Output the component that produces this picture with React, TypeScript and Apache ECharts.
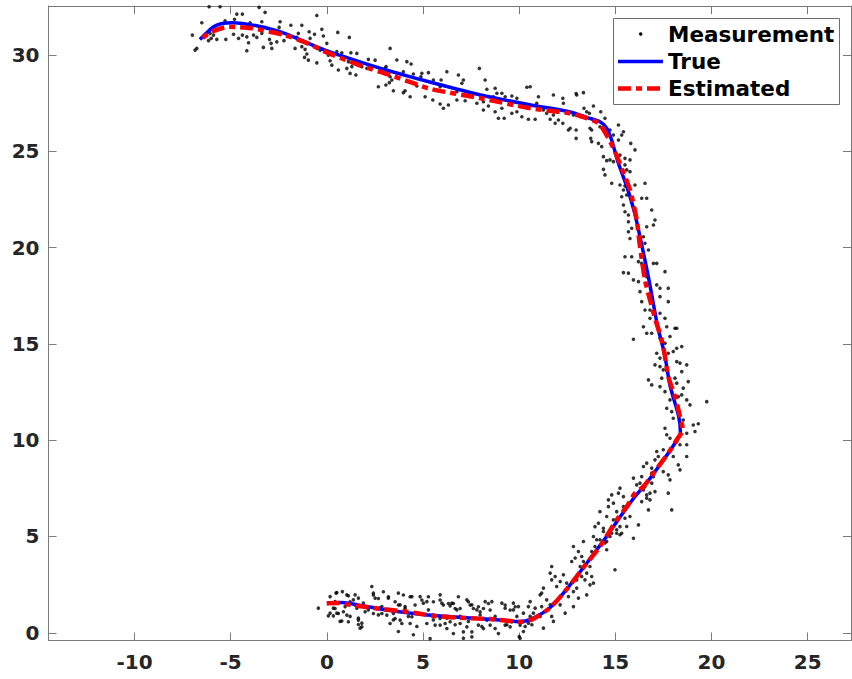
import React, { useEffect, useRef } from "react";
import * as echarts from "echarts";

// ---- axes ----
const X_MIN = -14.47;
const X_MAX = 27.25;
const Y_MIN = -0.4;
const Y_MAX = 32.54;
const xTickValues = [-10, -5, 0, 5, 10, 15, 20, 25];
const yTickValues = [0, 5, 10, 15, 20, 25, 30];

// ---- series names ----
const seriesNames = ["Measurement", "True", "Estimated"];

// ---- true trajectory ----
const truePath: number[][] = [
  [0.0, 1.52], [0.8, 1.57], [1.6, 1.45], [3.0, 1.2], [5.0, 0.95], [6.5, 0.83], [8.0, 0.73],
  [9.3, 0.64], [10.0, 0.58], [10.6, 0.7], [11.6, 1.3], [12.5, 2.3], [13.5, 3.6], [14.4, 4.8],
  [15.2, 5.95], [16.0, 7.05], [16.6, 7.75], [17.3, 8.7], [17.8, 9.4], [18.2, 10.0], [18.38, 10.4],
  [18.3, 11.2], [17.85, 12.8], [17.55, 14.5], [17.2, 15.9], [16.75, 18.3], [16.4, 20.0],
  [16.0, 21.8], [15.6, 23.15], [15.15, 24.4], [14.8, 25.6], [14.55, 26.2], [14.2, 26.53],
  [13.5, 26.76], [12.6, 27.05], [10.6, 27.4], [8.0, 27.92], [5.4, 28.58], [3.5, 29.1],
  [2.0, 29.55], [-0.1, 30.25], [-2.2, 31.12], [-3.6, 31.5], [-4.9, 31.67], [-5.5, 31.62],
  [-5.9, 31.45], [-6.6, 30.8],
];

// ---- estimated trajectory ----
const estPath: number[][] = [
  [0.0, 1.54], [0.6, 1.55], [1.2, 1.45], [2.9, 1.23], [4.7, 1.02], [5.5, 0.88], [7.3, 0.76],
  [8.5, 0.71], [9.4, 0.63], [10.05, 0.56], [10.7, 0.71], [11.6, 1.3], [12.5, 2.3], [13.5, 3.6],
  [14.2, 4.48], [15.07, 5.86], [15.59, 6.55], [16.02, 7.25], [16.46, 7.59], [17.23, 8.63],
  [17.75, 9.33], [18.19, 10.02], [18.5, 10.55], [18.36, 11.22], [18.1, 12.26], [17.75, 13.3],
  [17.58, 14.34], [17.41, 15.2], [17.1, 16.2], [16.8, 17.28], [16.54, 18.32], [16.28, 20.05],
  [16.11, 21.43], [15.76, 22.99], [15.33, 24.11], [14.98, 24.98], [14.64, 25.67], [14.12, 26.45],
  [13.17, 26.83], [12.6, 26.97], [10.6, 27.23], [8.0, 27.75], [5.4, 28.23], [4.5, 28.53],
  [3.3, 28.95], [1.6, 29.5], [-0.1, 30.17], [-1.0, 30.6], [-2.2, 31.03], [-3.9, 31.38],
  [-5.1, 31.46], [-6.0, 31.2], [-6.6, 30.77],
];

// ---- measurements (noisy positions) ----
const measTopLeft: number[][] = [
  [-6.12, 32.5], [-5.55, 32.5], [-3.52, 32.47], [-3.21, 32.21], [-4.68, 32.12], [-4.39, 32.12],
  [-0.52, 32.05], [-6.5, 31.67], [-4.8, 31.85], [-5.29, 31.77], [-3.99, 31.67], [-3.38, 31.72],
  [-2.43, 31.72], [-1.87, 31.54], [-1.3, 31.54], [-2.48, 31.43], [-0.26, 31.33], [-6.99, 31.03],
  [-6.07, 31.12], [-5.89, 31.03], [-5.72, 30.81], [-6.15, 30.74], [-6.01, 30.86], [-5.25, 30.81],
  [-4.85, 31.07], [-4.59, 30.86], [-4.16, 30.94], [-4.39, 31.03], [-3.81, 31.03], [-3.64, 30.91],
  [-3.38, 31.12], [-4.07, 30.63], [-2.98, 30.81], [-2.9, 30.6], [-3.3, 30.39], [-4.16, 30.22],
  [-2.6, 30.68], [-2.23, 30.74], [-1.48, 31.12], [-1.56, 30.91], [-1.39, 30.74], [-0.92, 31.2],
  [-0.64, 31.07], [-0.18, 30.98], [0.57, 31.17], [-0.87, 30.86], [-1.13, 30.29], [-1.65, 30.34],
  [-2.86, 30.34], [-1.3, 30.43], [-1.04, 30.05], [-1.16, 29.87], [-0.96, 29.73], [-0.52, 29.59],
  [0, 30.6], [-0.35, 30.25], [0.08, 29.99], [0.17, 29.7], [0.26, 29.47], [0.52, 30.17],
  [0.78, 30.11], [1.17, 30.91], [0.86, 29.9], [1.25, 30.11], [1.56, 30.08], [1.12, 29.65],
  [1.3, 29.39], [1.04, 29.3], [0.6, 29.22], [1.21, 29.04], [1.51, 28.96], [1.82, 29.39],
  [2.16, 29.77], [2.51, 29.73], [2.08, 29.3], [3.03, 29.3], [3.29, 30.34], [2.68, 28.35],
  [3.07, 28.44], [3.29, 28.87], [3.38, 28.7], [-6.85, 30.25], [-6.76, 30.34],
];

const measTopRight: number[][] = [
  [3.64, 29.74], [4.16, 29.65], [4.38, 29.53], [3.08, 29.39], [3.98, 29.13], [4.5, 29.01],
  [4.94, 29.05], [5.28, 29.08], [4.89, 28.87], [3.25, 28.56], [3.46, 28.14], [4.07, 28.14],
  [4.33, 27.83], [3.98, 28.04], [4.68, 28.39], [5.54, 28.7], [5.94, 28.7], [5.89, 28.35],
  [6.24, 29.13], [6.84, 28.96], [7.1, 28.7], [7.02, 28.53], [7.93, 29.3], [8.23, 28.7],
  [7.28, 28.09], [6.76, 28.09], [5.51, 27.66], [5.11, 27.83], [5.89, 27.45], [6.06, 27.23],
  [6.32, 27.4], [6.76, 27.66], [7.19, 27.62], [7.8, 27.49], [8.14, 27.57], [8.32, 28.22],
  [8.75, 28.27], [8.84, 28.01], [9.1, 28.01], [8.66, 27.83], [9.27, 27.83], [9.62, 27.87],
  [9.88, 27.75], [10.4, 28.32], [10.57, 28.35], [8.14, 27.14], [8.4, 27.35], [8.75, 27.05],
  [9.1, 27.23], [8.92, 26.71], [9.22, 26.71], [9.62, 26.97], [9.88, 27.05], [10.14, 26.79],
  [10.4, 27.28], [10.48, 26.66], [10.83, 26.66], [10.91, 27.49], [11.0, 27.83], [11.26, 27.14],
  [11.43, 26.97], [11.61, 26.66], [11.78, 27.92], [12.27, 27.75], [12.3, 27.49], [11.78, 26.88],
  [12.04, 26.62], [11.87, 26.45], [12.65, 26.19], [12.96, 25.67], [12.99, 27.92], [13.34, 28.04],
  [13.37, 27.23], [13.51, 27.05], [13.65, 26.97], [13.86, 27.35], [14.24, 27.05], [13.77, 26.1],
  [13.72, 25.67], [14.2, 26.27], [13.17, 26.79], [12.82, 26.88],
];

const measRightUpper: number[][] = [
  [12.96, 28.0], [12.27, 26.45], [12.56, 26.1], [12.96, 26.1], [14.46, 26.71], [13.68, 26.19],
  [13.77, 25.5], [14.12, 25.41], [14.29, 25.24], [14.72, 26.1], [15.16, 26.36], [15.42, 26.01],
  [15.33, 25.84], [15.8, 25.41], [16.02, 25.07], [14.9, 25.84], [15.16, 25.58], [14.38, 24.72],
  [14.55, 24.51], [14.72, 24.55], [14.9, 24.46], [15.24, 24.8], [15.5, 24.63], [15.76, 24.55],
  [15.5, 24.29], [14.38, 24.06], [14.46, 23.77], [15.59, 24.03], [15.76, 23.94], [14.81, 23.34],
  [15.24, 23.25], [15.5, 23.2], [16.02, 23.25], [16.54, 23.34], [15.42, 22.99], [15.33, 22.64],
  [15.59, 22.73], [16.37, 22.56], [16.63, 22.56], [15.42, 22.21], [15.5, 21.86], [15.68, 21.69],
  [16.89, 21.95], [15.68, 21.34], [15.85, 21.0], [16.63, 21.08], [17.06, 21.43], [16.98, 21.17],
  [15.68, 20.82], [15.76, 20.47], [16.46, 20.56], [16.54, 20.22], [16.72, 19.87], [15.5, 19.52],
  [15.85, 19.52], [16.2, 19.27], [16.37, 19.18], [16.98, 19.18], [17.15, 19.18], [15.42, 18.7],
  [15.68, 18.67], [15.94, 18.32], [16.2, 18.23], [16.63, 18.49], [17.58, 18.75], [17.15, 18.06],
  [17.32, 17.89], [17.75, 17.89], [16.28, 17.71], [16.37, 17.19], [16.54, 16.76], [16.8, 16.76],
  [17.32, 17.45], [17.75, 17.19], [17.32, 16.59], [17.58, 16.33], [16.8, 16.33], [16.46, 15.89],
  [18.1, 15.81], [17.67, 15.89],
];

const measRightLower: number[][] = [
  [16.89, 15.55], [18.19, 15.81], [15.94, 15.24], [16.63, 15.55], [17.32, 15.29], [17.58, 15.03],
  [17.84, 15.38], [18.19, 14.77], [18.45, 14.86], [17.15, 14.51], [17.32, 14.26], [17.75, 14.51],
  [18.01, 14.6], [17.06, 13.91], [17.32, 13.82], [17.49, 13.65], [18.19, 14.08], [18.36, 14.0],
  [18.71, 13.91], [18.45, 13.56], [17.41, 13.22], [16.72, 13.13], [16.89, 12.87], [17.32, 12.78],
  [18.1, 13.22], [18.19, 12.96], [18.79, 13.04], [18.53, 12.7], [17.58, 12.52], [17.84, 12.09],
  [18.27, 12.26], [18.45, 12.35], [18.71, 12.09], [18.88, 11.83], [19.75, 12.0], [17.67, 11.66],
  [17.93, 11.48], [18.01, 11.14], [18.53, 11.05], [19.05, 10.79], [19.31, 10.85], [19.14, 10.45],
  [18.71, 10.36], [17.58, 10.62], [17.67, 10.28], [17.84, 10.1], [18.19, 9.93], [17.93, 9.58],
  [18.36, 9.76], [18.71, 9.76], [17.15, 9.41], [17.49, 9.5], [17.23, 9.15], [18.01, 9.15],
  [18.71, 9.15], [18.27, 8.72], [18.36, 8.46], [17.49, 8.37], [17.75, 8.2], [17.84, 7.94],
  [16.46, 8.63], [16.63, 8.81], [16.89, 8.55], [16.98, 8.11], [15.94, 8.03], [16.28, 7.77],
  [16.54, 7.59], [16.89, 7.77], [16.63, 7.16], [16.8, 6.9], [16.37, 6.81], [17.75, 7.25],
  [17.93, 6.38], [15.24, 7.51], [15.16, 7.25], [15.42, 7.07], [14.9, 6.73], [14.81, 7.16],
  [14.64, 6.55], [15.07, 6.29], [15.42, 6.55], [15.76, 6.04], [16.2, 5.6], [14.2, 6.29],
  [14.55, 6.04], [14.9, 5.86], [14.12, 5.69], [13.94, 5.51], [14.38, 5.43], [15.24, 5.51],
  [15.33, 5.17], [13.86, 5.0], [14.03, 4.83], [14.72, 5.0], [14.55, 4.74], [15.94, 4.91],
  [13.34, 4.74], [15.07, 5.17],
];

const measRise: number[][] = [
  [17.06, 8.98], [16.37, 8.11], [16.89, 8.29], [16.11, 7.68], [16.46, 7.42], [16.8, 7.25],
  [17.06, 7.33], [16.63, 6.99], [16.72, 6.38], [14.64, 6.9], [15.5, 5.95], [15.59, 5.52],
  [15.07, 5.35], [15.24, 5.09], [14.81, 5.17], [14.38, 5.26], [14.2, 4.83], [14.46, 4.66],
  [13.94, 4.48], [14.55, 4.31], [13.77, 4.22], [12.82, 4.48], [13.08, 4.22], [13.25, 3.96],
  [12.91, 3.88], [12.73, 3.7], [13.34, 3.7], [13.68, 3.44], [13.17, 3.44], [13.51, 3.1],
  [13.77, 2.92], [14.98, 3.27], [11.69, 3.44], [11.61, 3.1], [11.87, 2.92], [12.3, 3.01],
  [11.69, 2.75], [12.13, 2.66], [12.47, 2.58], [12.99, 2.75], [13.42, 2.75], [13.68, 2.49],
  [13.51, 1.97], [12.82, 2.14], [12.56, 1.88], [13.08, 1.8], [11.26, 2.32], [11.09, 1.97],
  [11.43, 1.71], [11.17, 1.36], [11.61, 1.45], [12.13, 1.45], [12.39, 1.02], [11.69, 0.85],
  [10.57, 1.62], [10.48, 1.36], [10.83, 1.28], [10.74, 1.02], [11.09, 0.85], [10.22, 1.02],
  [10.57, 0.85], [11.78, 0.59], [10.48, 0.5], [9.88, 0.85], [9.7, 1.54], [9.7, 1.19],
  [9.96, 1.36], [10.31, 0.33], [10.66, 0.42], [11.26, 0.24], [10.0, -0.2],
];

const measBottom: number[][] = [
  [-0.44, 1.28], [0.17, 1.88], [0.48, 2.06], [0.81, 2.14], [0.43, 1.62], [0.34, 1.28],
  [0.17, 1.02], [0.52, 1.02], [0.69, 0.59], [0.95, 1.36], [1.12, 1.92], [1.38, 1.71],
  [1.64, 1.8], [1.9, 1.54], [1.56, 1.28], [1.21, 0.85], [1.64, 0.76], [1.82, 0.5], [1.73, 0.24],
  [2.34, 2.4], [2.42, 2.06], [2.51, 1.8], [2.16, 1.19], [2.68, 0.93], [2.86, 1.36], [3.2, 1.8],
  [3.29, 1.19], [3.46, 0.67], [3.72, 0.07], [3.72, 2.06], [3.81, 1.45], [4.07, 1.36],
  [4.24, 0.85], [4.42, 1.88], [4.68, 0.33], [4.85, 1.88], [5.02, 1.54], [5.2, 1.62],
  [5.28, 1.19], [5.37, -0.3], [5.54, 0.67], [5.89, 1.97], [5.98, 1.54], [6.24, 0.76],
  [6.5, 1.54], [6.67, 0.42], [6.76, 1.19], [6.93, 0.85], [7.1, -0.28], [7.28, 1.71],
  [7.36, 0.59], [7.54, 1.45], [7.8, 1.19], [7.97, 0.93], [8.06, 0.33], [8.23, 1.62],
  [8.58, 1.62], [8.75, 0.85], [9.1, 1.54], [9.27, 1.28], [9.36, 0.42], [10.05, -0.28],
  [10.22, 0.07], [11.17, 2.06], [11.95, 2.4], [12.82, 1.36], [12.99, 2.32], [13.25, 2.92],
  [13.86, 2.58], [1.04, 1.97], [1.47, 1.97], [4.5, -0.1], [2.77, 1.28],
];

const measBottomExtra: number[][] = [
  [0.52, 2.09], [2.42, 1.96], [2.68, 1.78], [2.94, 2.13], [3.2, 1.87], [3.55, 1.61],
  [3.98, 1.96], [4.33, 1.87], [4.59, 1.44], [0.43, 1.26], [0.6, 1.0], [0.34, 0.88],
  [0.08, 0.88], [0.86, 1.09], [1.04, 0.92], [1.12, 0.57], [0.78, 0.61], [1.64, 0.66],
  [1.64, 0.43], [1.82, 0.31], [1.99, 1.09], [2.42, 1.0], [2.6, 1.26], [2.86, 1.0],
  [3.12, 0.92], [3.46, 1.0], [3.55, 0.74], [3.29, 0.48], [3.81, 0.66], [3.9, 0.48],
  [4.33, 0.48], [4.42, 0.83], [4.07, 1.26], [3.72, 1.44], [1.47, 1.44], [1.21, 1.61],
  [4.94, 1.7], [5.28, 1.87], [5.54, 1.61], [5.89, 1.7], [6.06, 1.44], [6.32, 1.52],
  [6.41, 1.4], [6.58, 1.52], [6.67, 1.26], [6.84, 1.87], [6.93, 1.26], [7.36, 1.61],
  [7.45, 1.44], [7.62, 1.26], [7.88, 1.35], [7.97, 1.09], [8.14, 1.26], [8.4, 1.52],
  [8.49, 1.18], [9.27, 1.44], [9.53, 1.18], [9.79, 1.35], [5.2, 0.48], [5.63, 0.4],
  [5.89, 0.4], [6.15, 0.48], [6.24, 0.22], [6.58, -0.04], [6.93, 0.48], [7.28, 0.31],
  [7.1, 0.05], [7.54, 0.05], [7.54, -0.21], [7.88, 0.4], [8.14, 0.22], [8.49, 0.4],
  [8.75, 0.22], [8.92, -0.04], [9.27, 0.4], [9.53, 0.31], [9.62, 0.57], [10.05, 0.4],
  [5.54, 0.92], [5.89, 0.74], [8.32, 0.66], [6.41, 0.57],
];

const measurements = [
  ...measTopLeft, ...measTopRight, ...measRightUpper, ...measRightLower, ...measRise,
  ...measBottom, ...measBottomExtra,
];

const FONT = "'DejaVu Sans', 'Liberation Sans', sans-serif";
const AXIS_COLOR = "#7a7a7a";
const LABEL_COLOR = "#262626";

function buildOption(): echarts.EChartsCoreOption {
  const axisLine = { show: true, onZero: false, lineStyle: { color: AXIS_COLOR, width: 1 } };
  const tickStyle = { color: AXIS_COLOR, width: 1 };
  const labelStyle = { fontSize: 20, fontWeight: "bold", color: LABEL_COLOR, fontFamily: FONT };

  const legendX = 613.5;
  const legendY = 18.5;
  const iconX0 = 618;
  const iconX1 = 663;
  const textX = 668;
  const rows = [34, 61.5, 88.5];

  return {
    animation: false,
    backgroundColor: "#ffffff",
    grid: { left: 48.5, right: 1, top: 6, bottom: 38.5, containLabel: false },
    xAxis: [
      {
        type: "value", min: X_MIN, max: X_MAX, position: "bottom",
        axisLine,
        axisTick: { show: true, inside: true, length: 8, customValues: xTickValues, lineStyle: tickStyle },
        axisLabel: { show: true, customValues: xTickValues, margin: 11, ...labelStyle },
        splitLine: { show: false },
      },
      {
        type: "value", min: X_MIN, max: X_MAX, position: "top",
        axisLine,
        axisTick: { show: true, inside: true, length: 8, customValues: xTickValues, lineStyle: tickStyle },
        axisLabel: { show: false },
        splitLine: { show: false },
      },
    ],
    yAxis: [
      {
        type: "value", min: Y_MIN, max: Y_MAX, position: "left",
        axisLine,
        axisTick: { show: true, inside: true, length: 8, customValues: yTickValues, lineStyle: tickStyle },
        axisLabel: { show: true, customValues: yTickValues, margin: 9, ...labelStyle },
        splitLine: { show: false },
      },
      {
        type: "value", min: Y_MIN, max: Y_MAX, position: "right",
        axisLine,
        axisTick: { show: true, inside: true, length: 8, customValues: yTickValues, lineStyle: tickStyle },
        axisLabel: { show: false },
        splitLine: { show: false },
      },
    ],
    series: [
      {
        name: seriesNames[0], type: "scatter", xAxisIndex: 0, yAxisIndex: 0,
        data: measurements, symbol: "circle", symbolSize: 3.6,
        itemStyle: { color: "#000000" }, z: 2,
      },
      {
        name: seriesNames[1], type: "line", xAxisIndex: 0, yAxisIndex: 0,
        data: truePath, showSymbol: false, smooth: 0.25,
        lineStyle: { color: "#0000ff", width: 3.5 }, z: 3,
      },
      {
        name: seriesNames[2], type: "line", xAxisIndex: 0, yAxisIndex: 0,
        data: estPath, showSymbol: false, smooth: 0.25,
        lineStyle: { color: "#ff0000", width: 4.5, type: [13, 5, 6, 5] }, z: 4,
      },
    ],
    graphic: [
      {
        type: "group", z: 100,
        children: [
          {
            type: "rect", shape: { x: legendX, y: legendY, width: 226, height: 86 },
            style: { fill: "#ffffff", stroke: "#6e6e6e", lineWidth: 1 },
          },
          { type: "circle", shape: { cx: 640.7, cy: rows[0], r: 1.7 }, style: { fill: "#000000" } },
          {
            type: "line", shape: { x1: iconX0, y1: rows[1], x2: iconX1, y2: rows[1] },
            style: { stroke: "#0000ff", lineWidth: 3.5 },
          },
          {
            type: "line", shape: { x1: iconX0, y1: rows[2], x2: iconX1, y2: rows[2] },
            style: { stroke: "#ff0000", lineWidth: 4.5, lineDash: [13, 5, 6, 5] },
          },
          ...seriesNames.map((name, i) => ({
            type: "text",
            x: textX, y: rows[i],
            style: {
              text: name, fill: "#000000", fontSize: 21.5, fontWeight: "bold", fontFamily: FONT,
              textAlign: "left", textVerticalAlign: "middle",
            },
          })),
        ],
      },
    ],
  };
}

export default function App() {
  const ref = useRef<HTMLDivElement>(null);
  useEffect(() => {
    if (!ref.current) return;
    const chart = echarts.init(ref.current, undefined, { renderer: "svg" });
    chart.setOption(buildOption());
    return () => chart.dispose();
  }, []);
  return (
    <div
      ref={ref}
      style={{ position: "fixed", left: 0, top: 0, width: 852, height: 679, background: "#ffffff" }}
    />
  );
}
